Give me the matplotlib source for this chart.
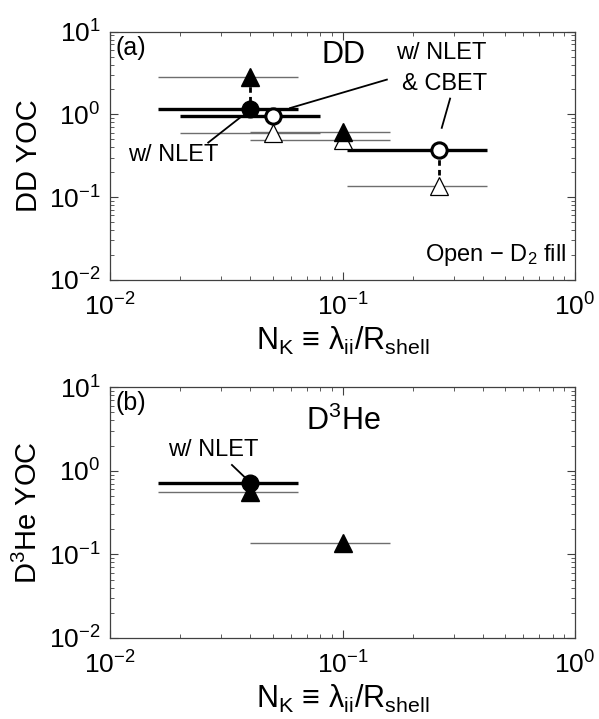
import matplotlib
matplotlib.use("Agg")
import matplotlib.pyplot as plt
from matplotlib.ticker import LogLocator, NullFormatter

plt.rcParams['font.family'] = ['Liberation Sans', 'DejaVu Sans']
plt.rcParams['mathtext.fontset'] = 'custom'
plt.rcParams['mathtext.rm'] = 'Liberation Sans'
plt.rcParams['mathtext.it'] = 'Liberation Sans:italic'
plt.rcParams['mathtext.bf'] = 'Liberation Sans:bold'

# ---- panel (a): DD yield-over-clean ----
dd_ftri_x = [0.04, 0.1]
dd_ftri_y = [2.8, 0.61]
dd_ftri_lo = [0.016, 0.04]
dd_ftri_hi = [0.064, 0.16]

dd_fcirc_x = [0.04]
dd_fcirc_y = [1.16]
dd_fcirc_lo = [0.016]
dd_fcirc_hi = [0.064]

dd_ocirc_x = [0.05, 0.26]
dd_ocirc_y = [0.95, 0.37]
dd_ocirc_lo = [0.02, 0.104]
dd_ocirc_hi = [0.08, 0.416]

dd_otri_x = [0.05, 0.1, 0.26]
dd_otri_y = [0.6, 0.49, 0.137]
dd_otri_lo = [0.02, 0.04, 0.104]
dd_otri_hi = [0.08, 0.16, 0.416]

# ---- panel (b): D3He yield-over-clean ----
d3_fcirc_x = [0.04]
d3_fcirc_y = [0.71]
d3_fcirc_lo = [0.016]
d3_fcirc_hi = [0.064]

d3_ftri_x = [0.04, 0.1]
d3_ftri_y = [0.55, 0.138]
d3_ftri_lo = [0.016, 0.04]
d3_ftri_hi = [0.064, 0.16]

THIN = '#6e6e6e'
FS_TICK = 19
FS_LABEL = 21
FS_TEXT = 17


def bars(ax, x, y, lo, hi, color, lw):
    ax.hlines(y, lo, hi, colors=color, linewidth=lw, zorder=2)


def style_axes(ax):
    ax.set_xscale('log')
    ax.set_yscale('log')
    ax.set_xlim(1e-2, 1e0)
    ax.set_ylim(1e-2, 1e1)
    for ax_ in (ax.xaxis, ax.yaxis):
        ax_.set_major_locator(LogLocator(base=10, numticks=10))
        ax_.set_minor_locator(LogLocator(base=10, subs=range(2, 10), numticks=20))
        ax_.set_minor_formatter(NullFormatter())
    ax.tick_params(which='both', direction='in', top=True, right=True,
                   color='#404040')
    ax.tick_params(which='major', length=6, width=0.8, labelsize=FS_TICK, pad=7)
    ax.tick_params(axis='x', which='major', pad=10)
    ax.tick_params(which='minor', length=3, width=0.6)
    for s in ax.spines.values():
        s.set_color('#404040')
        s.set_linewidth(0.9)
    ax.set_xlabel(r'N$_\mathrm{K}$ ≡ λ$_\mathrm{ii}$/R$_\mathrm{shell}$',
                  fontsize=FS_LABEL + 1, labelpad=3)


fig = plt.figure(figsize=(5.99, 7.19), dpi=100)
ax1 = fig.add_axes([0.184, 0.611, 0.776, 0.345])
ax2 = fig.add_axes([0.184, 0.1127, 0.776, 0.349])

# panel (a)
bars(ax1, dd_otri_x, dd_otri_y, dd_otri_lo, dd_otri_hi, THIN, 1.0)
bars(ax1, dd_ftri_x, dd_ftri_y, dd_ftri_lo, dd_ftri_hi, THIN, 1.0)
bars(ax1, dd_fcirc_x, dd_fcirc_y, dd_fcirc_lo, dd_fcirc_hi, 'black', 2.4)
bars(ax1, dd_ocirc_x, dd_ocirc_y, dd_ocirc_lo, dd_ocirc_hi, 'black', 2.4)

# dashed connectors between paired measurements
ax1.plot([dd_ftri_x[0], dd_fcirc_x[0]], [dd_ftri_y[0], dd_fcirc_y[0]],
         ls=(0, (2, 1.5)), color='black', lw=2, zorder=3)
for i in (0, 1):
    j = dd_otri_x.index(dd_ocirc_x[i])
    ax1.plot([dd_ocirc_x[i], dd_otri_x[j]], [dd_ocirc_y[i], dd_otri_y[j]],
             ls=(0, (2, 1.5)), color='black', lw=2, zorder=3)

ax1.plot(dd_otri_x, dd_otri_y, ls='none', marker='^', ms=13, mfc='white',
         mec='black', mew=0.9, zorder=4)
ax1.plot(dd_ftri_x, dd_ftri_y, ls='none', marker='^', ms=13, mfc='black',
         mec='black', zorder=4)
ax1.plot(dd_fcirc_x, dd_fcirc_y, ls='none', marker='o', ms=12, mfc='black',
         mec='black', zorder=5)
ax1.plot(dd_ocirc_x, dd_ocirc_y, ls='none', marker='o', ms=11, mfc='white',
         mec='black', mew=2.2, zorder=5)

style_axes(ax1)
ax1.set_ylabel('DD YOC', fontsize=FS_LABEL, labelpad=4)

ax1.text(0.012, 0.935, '(a)', transform=ax1.transAxes, fontsize=FS_TEXT + 1,
         ha='left', va='center')
ax1.text(0.501, 0.907, 'DD', transform=ax1.transAxes, fontsize=FS_LABEL + 1,
         ha='center', va='center')
ax1.text(0.81, 0.912, 'w/ NLET', transform=ax1.transAxes, fontsize=FS_TEXT,
         ha='right', va='center')
ax1.text(0.81, 0.79, '& CBET', transform=ax1.transAxes, fontsize=FS_TEXT,
         ha='right', va='center')
ax1.text(0.135, 0.504, 'w/ NLET', transform=ax1.transAxes, fontsize=FS_TEXT,
         ha='center', va='center')
ax1.text(0.982, 0.074, r'Open $-$ D$_2$ fill', transform=ax1.transAxes,
         fontsize=FS_TEXT, ha='right', va='baseline')

# leader lines
ax1.plot([0.0264, 0.0368], [0.455, 0.946], color='black', lw=1.3, zorder=3)
ax1.plot([0.155, 0.0594], [2.63, 1.19], color='black', lw=1.3, zorder=3)
ax1.plot([0.290, 0.267], [1.55, 0.686], color='black', lw=1.3, zorder=3)

# panel (b)
bars(ax2, d3_ftri_x, d3_ftri_y, d3_ftri_lo, d3_ftri_hi, THIN, 1.0)
bars(ax2, d3_fcirc_x, d3_fcirc_y, d3_fcirc_lo, d3_fcirc_hi, 'black', 2.4)
ax2.plot(d3_ftri_x, d3_ftri_y, ls='none', marker='^', ms=13, mfc='black',
         mec='black', zorder=4)
ax2.plot(d3_fcirc_x, d3_fcirc_y, ls='none', marker='o', ms=12, mfc='black',
         mec='black', zorder=5)

style_axes(ax2)
ax2.set_ylabel(r'D$^3$He YOC', fontsize=FS_LABEL, labelpad=4)

ax2.text(0.012, 0.936, '(b)', transform=ax2.transAxes, fontsize=FS_TEXT + 1,
         ha='left', va='center')
ax2.text(0.501, 0.862, r'D$^3$He', transform=ax2.transAxes,
         fontsize=FS_LABEL + 1, ha='center', va='center')
ax2.text(0.2215, 0.749, 'w/ NLET', transform=ax2.transAxes, fontsize=FS_TEXT,
         ha='center', va='center')
ax2.plot([0.0334, 0.0377], [1.17, 0.848], color='black', lw=1.3, zorder=3)

fig.savefig('out.png', dpi=100)
